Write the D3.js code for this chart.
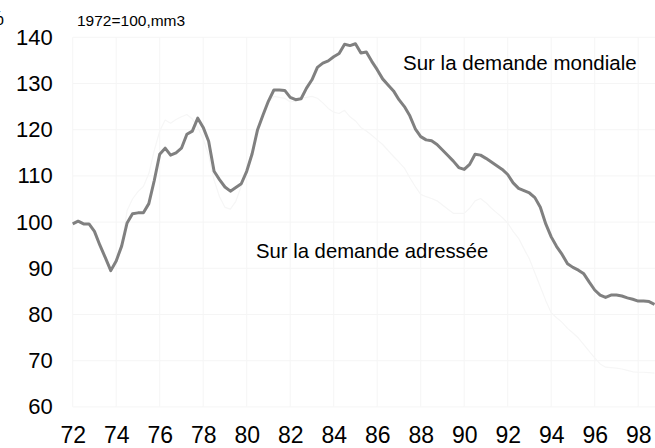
<!DOCTYPE html>
<html>
<head>
<meta charset="utf-8">
<script src="https://cdn.jsdelivr.net/npm/d3@7"></script>
<style>
  html, body { margin: 0; padding: 0; background: #fff; }
  svg { display: block; font-family: "Liberation Sans", Arial, sans-serif; }
</style>
</head>
<body>
<svg id="svg" width="655" height="448"></svg>
<script>
// quarterly periods, 1972Q1 .. 1998Q4 (decimal years, 2-digit)
const periods = d3.range(108).map(i => 72 + i / 4);

// Sur la demande mondiale (1972=100, mm3)
const mondiale = [
  99.6, 100.2, 99.6, 99.6, 98.0, 95.0, 92.3, 89.5,
  91.6, 94.8, 99.8, 101.8, 102.0, 102.0, 104.0, 109.0,
  114.7, 116.0, 114.5, 115.0, 116.0, 119.0, 119.7, 122.5,
  120.5, 117.5, 111.0, 109.2, 107.6, 106.7, 107.5, 108.3,
  111.0, 114.8, 120.0, 123.2, 126.2, 128.6, 128.6, 128.5,
  127.0, 126.5, 126.7, 129.0, 130.8, 133.5, 134.4, 134.9,
  135.8, 136.5, 138.5, 138.2, 138.6, 136.6, 136.8, 134.8,
  133.0, 131.0, 129.7, 128.4, 126.5, 125.0, 123.0, 120.2,
  118.5, 117.8, 117.6, 116.8, 115.6, 114.4, 113.2, 111.8,
  111.4, 112.5, 114.7, 114.5, 113.8, 113.0, 112.2, 111.4,
  110.3, 108.5, 107.3, 106.8, 106.3, 105.3, 103.2, 99.6,
  96.8, 94.7, 93.0, 91.0, 90.2, 89.6, 88.8, 87.0,
  85.3, 84.2, 83.7, 84.2, 84.2, 84.0, 83.6, 83.3,
  82.9, 82.9, 82.8, 82.2
];

// Sur la demande adressée (drawn almost white in the source)
const adressee = [
  99.6, 100.2, 99.6, 99.6, 98.0, 95.0, 92.3, 89.5,
  91.6, 94.8, 102.5, 105.0, 106.6, 107.7, 110.5, 115.5,
  119.7, 122.1, 121.4, 122.2, 122.8, 123.3, 122.3, 120.5,
  118.0, 114.5, 109.1, 105.5, 103.2, 102.8, 104.5, 107.8,
  111.0, 114.8, 120.0, 123.2, 125.8, 127.2, 127.0, 126.8,
  126.0, 126.2, 126.8, 127.0, 127.2, 126.8, 125.8, 124.6,
  123.8, 123.5, 124.2, 122.8, 121.9, 120.5, 119.7, 118.8,
  117.8, 116.8, 115.5, 114.2, 113.0, 111.7, 109.6, 107.7,
  106.0, 105.5, 105.1, 104.6, 103.7, 102.8, 101.9, 101.9,
  101.9, 103.0, 104.6, 105.1, 104.2, 103.0, 102.0, 101.0,
  99.8, 98.0, 96.5, 94.2, 92.0, 89.0, 86.0, 83.0,
  80.4, 79.3, 78.3, 77.0, 76.0, 74.9, 73.5, 72.0,
  70.6, 69.3, 68.6, 68.5, 68.4, 68.2, 67.9, 67.6,
  67.5, 67.5, 67.4, 67.3
];

const yTicks = [60, 70, 80, 90, 100, 110, 120, 130, 140];
const xTicks = [72, 74, 76, 78, 80, 82, 84, 86, 88, 90, 92, 94, 96, 98];

const svg = d3.select('#svg');
const W = 655;

const x = d3.scaleLinear().domain([72, 98]).range([72.7, 638.2]);
const y = d3.scaleLinear().domain([60, 140]).range([406.9, 37.3]);

// --- Grid ---
const grid = svg.append('g').attr('stroke', '#f5f5f5').attr('stroke-width', 1);
grid.selectAll('line.h')
  .data(yTicks).join('line')
  .attr('class', 'h')
  .attr('x1', x(72)).attr('x2', W)
  .attr('y1', d => y(d)).attr('y2', d => y(d));
grid.selectAll('line.v')
  .data(xTicks).join('line')
  .attr('class', 'v')
  .attr('x1', d => x(d)).attr('x2', d => x(d))
  .attr('y1', y(140)).attr('y2', y(60));

// --- Axes (labels only) ---
const yAxis = svg.append('g')
  .attr('transform', `translate(${x(72)},0)`)
  .call(d3.axisLeft(y).tickValues(yTicks).tickSize(0).tickPadding(20));
yAxis.select('.domain').remove();
yAxis.selectAll('text')
  .attr('font-family', '"Liberation Sans", Arial, sans-serif')
  .attr('font-size', '22px')
  .attr('fill', '#000');

const xAxis = svg.append('g')
  .attr('transform', 'translate(0,443)')
  .call(d3.axisBottom(x).tickValues(xTicks).tickSize(0).tickFormat(d3.format('d')));
xAxis.select('.domain').remove();
xAxis.selectAll('text')
  .attr('font-family', '"Liberation Sans", Arial, sans-serif')
  .attr('font-size', '23px')
  .attr('fill', '#000')
  .attr('y', 0)
  .attr('dy', 0);

// --- Lines ---
const line = vals => d3.line()
  .x((d, i) => x(periods[i]))
  .y(d => y(d))(vals);

svg.append('path')
  .attr('d', line(adressee))
  .attr('fill', 'none')
  .attr('stroke', '#f6f6f6')
  .attr('stroke-width', 1.2)
  .attr('stroke-linejoin', 'round');

svg.append('path')
  .attr('d', line(mondiale))
  .attr('fill', 'none')
  .attr('stroke', '#808080')
  .attr('stroke-width', 3)
  .attr('stroke-linejoin', 'round');

// --- Texts ---
svg.append('text')
  .attr('x', 4).attr('y', 25)
  .attr('text-anchor', 'end')
  .attr('font-size', '20px')
  .text('%');

svg.append('text')
  .attr('x', 77).attr('y', 26)
  .attr('font-size', '15.5px')
  .text('1972=100,mm3');

svg.append('text')
  .attr('x', 403).attr('y', 70)
  .attr('font-size', '20.5px')
  .text('Sur la demande mondiale');

svg.append('text')
  .attr('x', 256).attr('y', 258)
  .attr('font-size', '20.3px')
  .text('Sur la demande adressée');
</script>
</body>
</html>
